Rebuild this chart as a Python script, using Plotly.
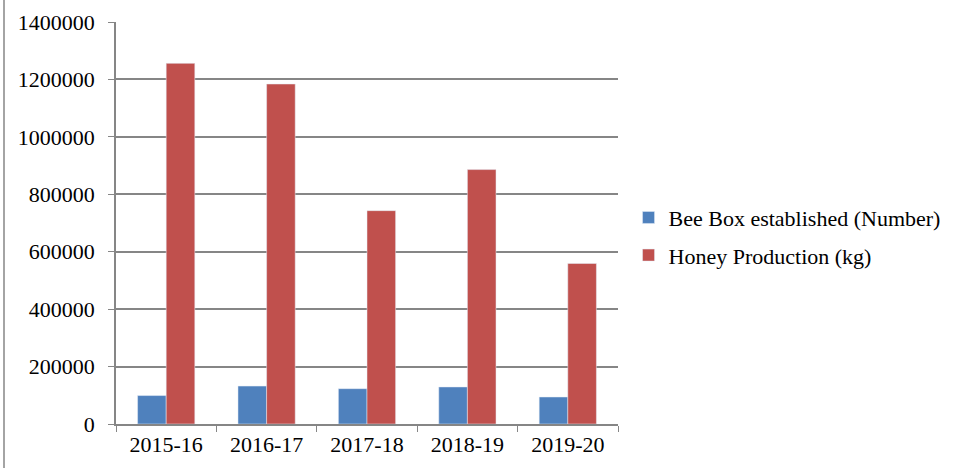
import plotly.graph_objects as go

years = ["2015-16", "2016-17", "2017-18", "2018-19", "2019-20"]
bee_boxes = [99000, 132000, 123000, 129000, 94000]
honey_kg = [1256000, 1184000, 743000, 886000, 559000]
y_ticks = [0, 200000, 400000, 600000, 800000, 1000000, 1200000, 1400000]

font = dict(family="Liberation Serif, Times New Roman, serif", size=22, color="black")

fig = go.Figure()
fig.add_trace(go.Bar(x=years, y=bee_boxes, name="Bee Box established (Number)",
                     legendgroup="bee", marker=dict(color="#4F81BD")))
fig.add_trace(go.Bar(x=years, y=honey_kg, name="Honey Production (kg)",
                     legendgroup="honey", marker=dict(color="#C0504D")))

fig.update_layout(
    width=960, height=468,
    margin=dict(l=116, r=342, t=22, b=44),
    paper_bgcolor="white", plot_bgcolor="white",
    font=font,
    barmode="group", bargap=0.43, bargroupgap=0,
    showlegend=True,
    legend=dict(x=1.021, y=0.466, xanchor="left", yanchor="middle",
                font=font, traceorder="grouped", tracegroupgap=6,
                itemwidth=30),
    xaxis=dict(showline=True, linecolor="#868686", linewidth=1.5,
               ticks="outside", tickson="boundaries", ticklen=6,
               tickcolor="#868686", showgrid=False, automargin=False),
    yaxis=dict(range=[0, 1400000], tickvals=y_ticks, showline=True,
               linecolor="#868686", linewidth=1.5, ticks="outside", ticklen=6,
               tickcolor="#868686", gridcolor="#868686", gridwidth=1.5,
               zeroline=False, tickformat="d", ticklabelstandoff=9,
               automargin=False),
    shapes=[dict(type="line", xref="paper", yref="paper",
                 x0=-112 / 502, x1=-112 / 502, y0=-0.2, y1=1.1,
                 line=dict(color="#868686", width=1.5))],
)

# page body margin would shift the chart by 8px
fig.write_html("out.html", config={"displayModeBar": False},
               post_script="document.body.style.margin='0';")
